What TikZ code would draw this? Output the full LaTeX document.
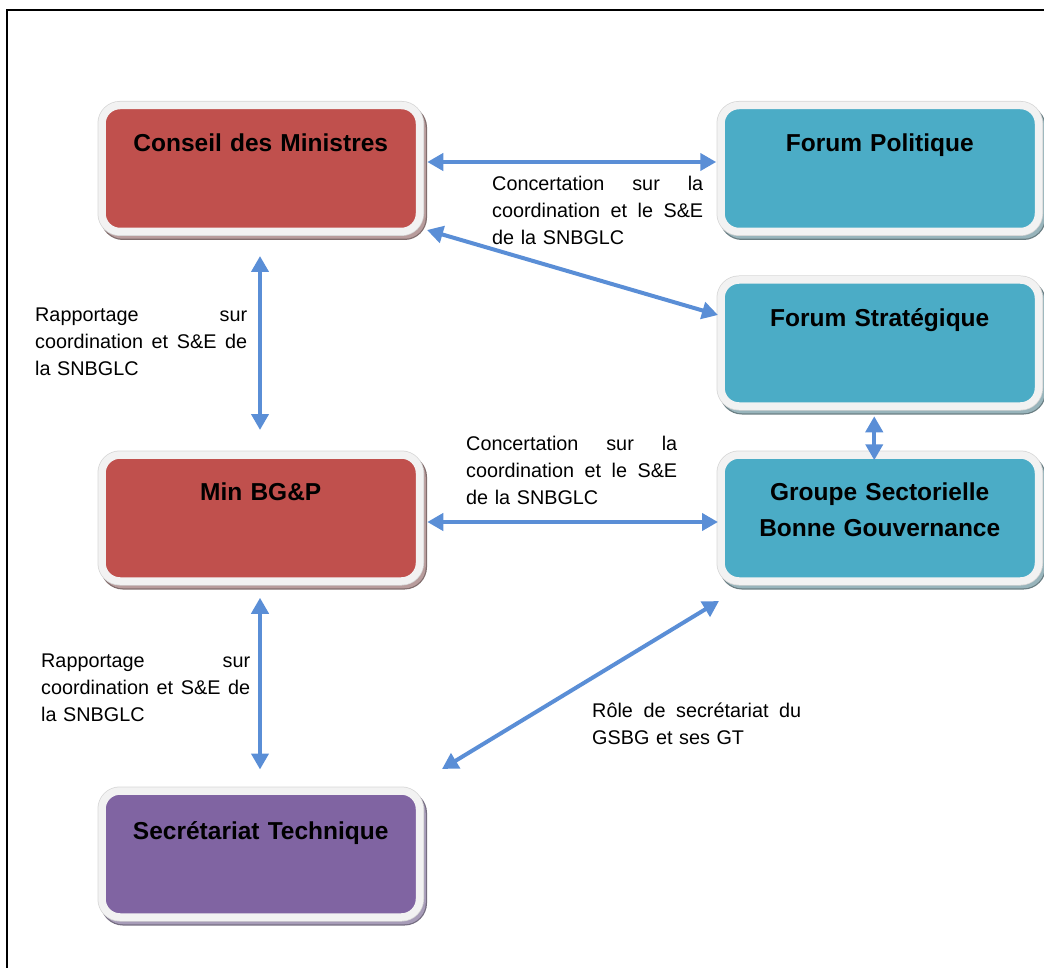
\documentclass[tikz,border=0pt]{standalone}
\usepackage{fontspec}
\setmainfont{Liberation Sans}
\usetikzlibrary{arrows.meta}
\definecolor{redbox}{HTML}{C0504D}
\definecolor{tealbox}{HTML}{4BACC6}
\definecolor{purplebox}{HTML}{8064A2}
\definecolor{redshadow}{HTML}{B89C9C}
\definecolor{tealshadow}{HTML}{98B4BB}
\definecolor{purpleshadow}{HTML}{A79CB8}
\definecolor{boxborder}{HTML}{F2F2F2}
\definecolor{boxoutline}{HTML}{D6D6D6}
\definecolor{arrowblue}{HTML}{5A8ED6}
\newcommand\titlefnt{\fontsize{24.5}{36}\selectfont\bfseries}
\newcommand\lblfnt{\fontsize{19.8}{27}\selectfont}
\tikzset{
  box/.style 2 args={
    rounded corners=18pt, minimum width=317.5pt, minimum height=126pt,
    inner sep=0pt, text width=300pt, align=center, font=\titlefnt,
    preaction={draw=#2!70!black, line width=9pt, transform canvas={xshift=3pt,yshift=-4pt}},
    preaction={draw=#2, fill=#2, line width=6.5pt, transform canvas={xshift=3pt,yshift=-4pt}},
    preaction={draw=boxoutline, line width=9pt},
    fill=#1, draw=boxborder, line width=7.5pt},
  lbl/.style={font=\lblfnt, align=left, inner sep=0pt, anchor=base west},
  arr/.style={{Triangle[length=16pt,width=17pt]}-{Triangle[length=16pt,width=17pt]}, line width=4pt, draw=arrowblue},
}
\begin{document}
\begin{tikzpicture}[x=1pt,y=-1pt]
\useasboundingbox (0,0) rectangle (1044,968);
\clip (0,0) rectangle (1044,968);
\draw[line width=2pt] (7,975) |- (1100,10);

\node[box={redbox}{redshadow}, text height=20pt, text depth=53pt] (cm) at (260.75,168.5) {Conseil des Ministres};
\node[box={tealbox}{tealshadow}, text height=20pt, text depth=53pt] (fp) at (879.75,168.5) {Forum Politique};
\node[box={tealbox}{tealshadow}, text height=20pt, text depth=52.6pt] (fs) at (879.75,343) {Forum Stratégique};
\node[box={tealbox}{tealshadow}, text height=20pt, text depth=56pt] (gs) at (879.75,518) {Groupe Sectorielle\\Bonne Gouvernance};
\node[box={redbox}{redshadow}, text height=20pt, text depth=56pt] (min) at (260.75,518) {Min BG\&P};
\node[box={purplebox}{purpleshadow}, text height=20pt, text depth=49.4pt] (st) at (260.75,854) {Secrétariat Technique};

\draw[arr] ([xshift=4pt,yshift=6.5pt]cm.east) -- ([xshift=-1pt,yshift=6.5pt]fp.west);
\draw[arr] ([xshift=3.75pt,yshift=-61.5pt]cm.east) -- ([xshift=0.75pt,yshift=28pt]fs.west);
\draw[arr] ([xshift=-0.75pt,yshift=-20.75pt]cm.south) -- ([xshift=-0.75pt,yshift=21.25pt]min.north);
\draw[arr] ([xshift=-5.5pt,yshift=-6.5pt]fs.south) -- ([xshift=-5.5pt,yshift=-9pt]gs.north);
\draw[arr] ([xshift=4pt,yshift=-4pt]min.east) -- ([xshift=0.75pt,yshift=-4pt]gs.west);
\draw[arr] ([xshift=-0.75pt,yshift=-13pt]min.south) -- ([xshift=-0.75pt,yshift=17.75pt]st.north);
\draw[arr] ([xshift=181.25pt,yshift=18.25pt]st.north) -- ([xshift=1.75pt,yshift=-83pt]gs.west);

\node[lbl, text width=211pt] (l1) at (492,191) {Concertation\hfill sur\hfill la\\coordination\hfill et\hfill le\hfill S\&E\\de la SNBGLC};
\node[lbl, text width=212pt] (l2) at (35,322) {Rapportage\hfill sur\\coordination\hfill et\hfill S\&E\hfill de\\la SNBGLC};
\node[lbl, text width=211pt] (l3) at (466,450) {Concertation\hfill sur\hfill la\\coordination\hfill et\hfill le\hfill S\&E\\de la SNBGLC};
\node[lbl, text width=209pt] (l4) at (41,667) {Rapportage\hfill sur\\coordination\hfill et\hfill S\&E\hfill de\\la SNBGLC};
\node[lbl, text width=209pt] (l5) at (592,717) {Rôle\hfill de\hfill secrétariat\hfill du\\GSBG et ses GT};
\end{tikzpicture}
\end{document}
